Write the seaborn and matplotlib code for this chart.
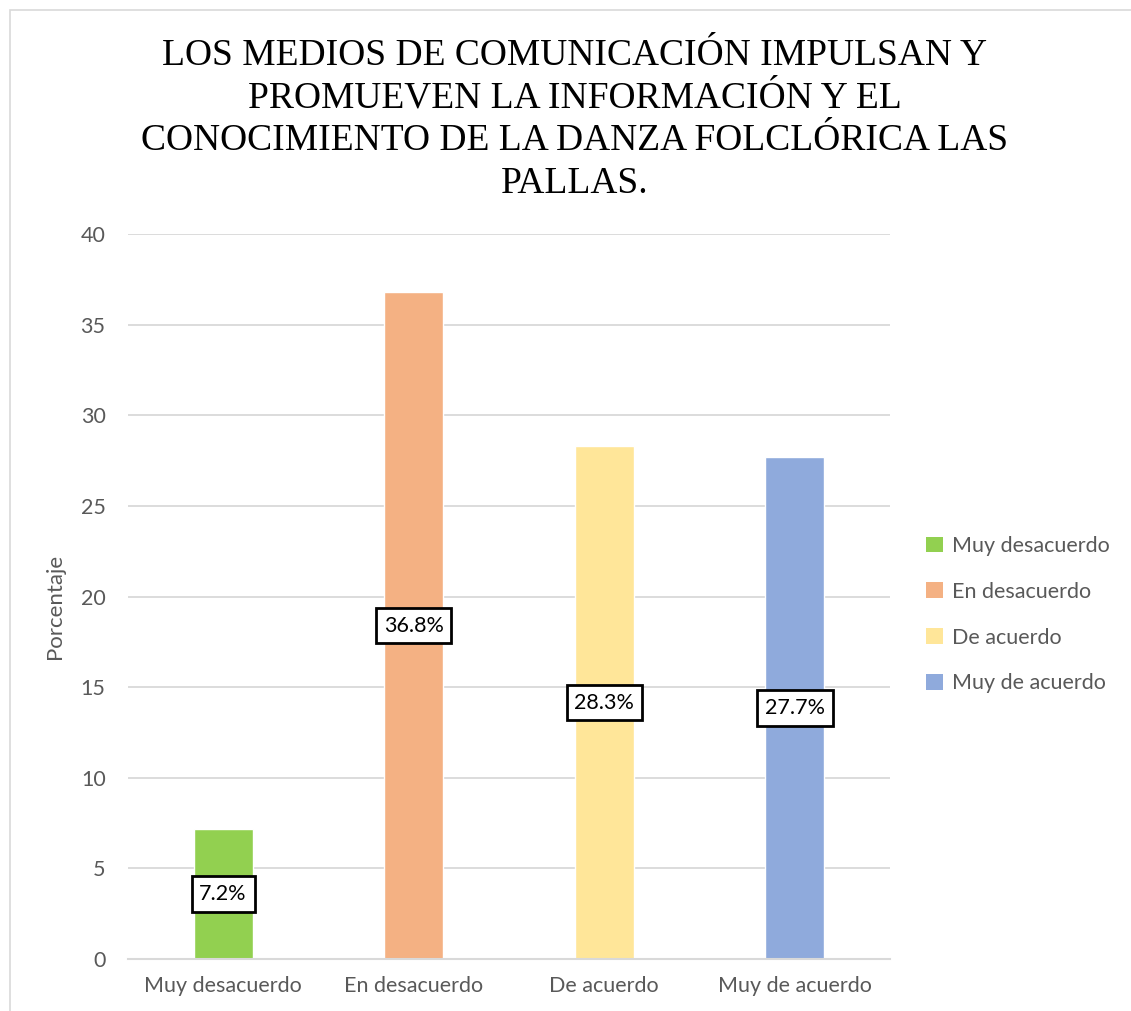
import pandas as pd
import seaborn as sns
import matplotlib.pyplot as plt
from matplotlib.patches import Rectangle, Patch

categorias = ["Muy desacuerdo", "En desacuerdo", "De acuerdo", "Muy de acuerdo"]
porcentajes = [7.2, 36.8, 28.3, 27.7]
etiquetas = ["7.2%", "36.8%", "28.3%", "27.7%"]
colores = ["#92D050", "#F4B183", "#FFE699", "#8FAADC"]
titulo = ("LOS MEDIOS DE COMUNICACIÓN IMPULSAN Y\n"
          "PROMUEVEN LA INFORMACIÓN Y EL\n"
          "CONOCIMIENTO DE LA DANZA FOLCLÓRICA LAS\n"
          "PALLAS.")


def set_config():
    sns.set_theme(style="white")
    plt.rcParams["font.family"] = ["Lato", "DejaVu Sans"]


def main():
    set_config()
    df = pd.DataFrame({"categoria": categorias, "porcentaje": porcentajes})

    fig = plt.figure(figsize=(11.31, 10.11), dpi=100)
    ax = fig.add_axes([0.113, 0.0514, 0.674, 0.7171])

    sns.barplot(data=df, x="categoria", y="porcentaje", hue="categoria",
                palette=colores, width=0.31, dodge=False, legend=False,
                saturation=1, ax=ax)

    # etiquetas con caja en la mitad de la barra
    for i, (v, t) in enumerate(zip(porcentajes, etiquetas)):
        ax.text(i, v / 2, t, ha="center", va="center", fontsize=15.5,
                color="black", zorder=5,
                bbox=dict(boxstyle="square,pad=0.36", fc="white", ec="black", lw=2))

    ax.set_ylim(0, 40)
    ax.set_xlim(-0.5, 3.5)
    ax.set_yticks(range(0, 41, 5))
    ax.yaxis.grid(True, color="#D9D9D9", lw=1.3)
    ax.set_axisbelow(True)
    for s in ["top", "right", "left"]:
        ax.spines[s].set_visible(False)
    ax.spines["bottom"].set_color("#D9D9D9")
    ax.spines["bottom"].set_linewidth(1.5)
    ax.tick_params(axis="y", length=0, labelsize=15.5, labelcolor="#595959", pad=16)
    ax.tick_params(axis="x", length=0, labelsize=15.5, labelcolor="#595959", pad=12)
    ax.set_xlabel("")
    ax.set_ylabel("Porcentaje", fontsize=16, color="#595959")
    ax.yaxis.set_label_coords(-0.082, 0.487)

    fig.text(0.508, 0.962, titulo, ha="center", va="top", fontsize=27,
             color="black", family=["Liberation Serif", "DejaVu Serif"],
             linespacing=1.31)

    handles = [Patch(facecolor=c, edgecolor="none") for c in colores]
    fig.legend(handles, categorias, loc="center left", bbox_to_anchor=(0.802, 0.392),
               frameon=False, fontsize=15.5, labelcolor="#595959",
               handlelength=0.75, handleheight=0.75, handletextpad=0.45, labelspacing=1.2)

    fig.patches.append(Rectangle((0.009, -0.1), 1.2, 1.09, transform=fig.transFigure,
                                 fill=False, ec="#D9D9D9", lw=1.2))

    fig.savefig("out.png", dpi=100)


if __name__ == "__main__":
    main()
